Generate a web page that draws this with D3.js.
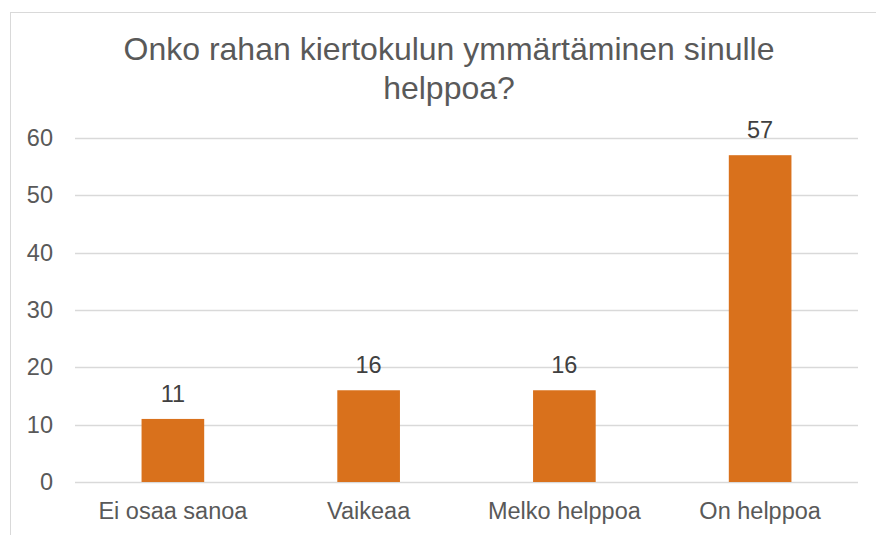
<!DOCTYPE html>
<html>
<head>
<meta charset="utf-8">
<script src="https://cdn.jsdelivr.net/npm/d3@7"></script>
<style>
  body { margin: 0; background: #fff; }
  text { font-family: "Liberation Sans", Arial, sans-serif; }
</style>
</head>
<body>
<div id="chart"></div>
<script>
// data
const categories = ['Ei osaa sanoa', 'Vaikeaa', 'Melko helppoa', 'On helppoa']
const values = [11, 16, 16, 57]
const yTicks = [0, 10, 20, 30, 40, 50, 60]
const titleLines = ['Onko rahan kiertokulun ymmärtäminen sinulle', 'helppoa?']

let width = 876
let height = 535
let margin = {top: 138, right: 18, bottom: 53, left: 75}
let fontSize = 23.5

const svg = d3.select('#chart').append('svg')
  .attr('width', width)
  .attr('height', height)

// chart frame
svg.append('rect')
  .attr('x', 10.5).attr('y', 12.5)
  .attr('width', 880).attr('height', 540)
  .attr('fill', 'none')
  .attr('stroke', '#d9d9d9')

const x = d3.scaleBand()
  .domain(categories)
  .range([margin.left, width - margin.right])
  .paddingInner(0.68)
  .paddingOuter(0.34)

const y = d3.scaleLinear()
  .domain([0, 60])
  .range([height - margin.bottom, margin.top])

// gridlines
svg.append('g')
  .selectAll('line')
  .data(yTicks)
  .join('line')
  .attr('x1', margin.left)
  .attr('x2', width - margin.right)
  .attr('y1', d => Math.round(y(d)) + 0.5)
  .attr('y2', d => Math.round(y(d)) + 0.5)
  .attr('stroke', '#d9d9d9')
  .attr('stroke-width', 1.3)

// y axis labels
const yAxis = svg.append('g')
  .attr('transform', `translate(${margin.left - 22},0)`)
  .call(d3.axisLeft(y).tickValues(yTicks).tickSize(0).tickPadding(0))
yAxis.attr('font-size', null).attr('font-family', null)
yAxis.select('.domain').remove()
yAxis.selectAll('text')
  .style('font-size', fontSize + 'px')
  .attr('fill', '#595959')

// bars
svg.append('g')
  .selectAll('rect')
  .data(values)
  .join('rect')
  .attr('x', (d, i) => x(categories[i]))
  .attr('width', x.bandwidth())
  .attr('y', d => y(d))
  .attr('height', d => y(0) - y(d))
  .attr('fill', '#d9711c')

// data labels
svg.append('g')
  .selectAll('text')
  .data(values)
  .join('text')
  .attr('x', (d, i) => x(categories[i]) + x.bandwidth() / 2)
  .attr('y', d => y(d) - 17)
  .attr('text-anchor', 'middle')
  .style('font-size', fontSize + 'px')
  .attr('fill', '#404040')
  .text(d => d)

// x axis labels
const xAxis = svg.append('g')
  .attr('transform', `translate(0,${height - margin.bottom})`)
  .call(d3.axisBottom(x).tickSize(0).tickPadding(20))
xAxis.attr('font-size', null).attr('font-family', null)
xAxis.select('.domain').remove()
xAxis.selectAll('text')
  .style('font-size', fontSize + 'px')
  .attr('fill', '#595959')

// title
svg.append('g')
  .selectAll('text')
  .data(titleLines)
  .join('text')
  .attr('x', 449)
  .attr('y', (d, i) => 60 + i * 39)
  .attr('text-anchor', 'middle')
  .style('font-size', '32px')
  .attr('fill', '#595959')
  .text(d => d)
</script>
</body>
</html>
